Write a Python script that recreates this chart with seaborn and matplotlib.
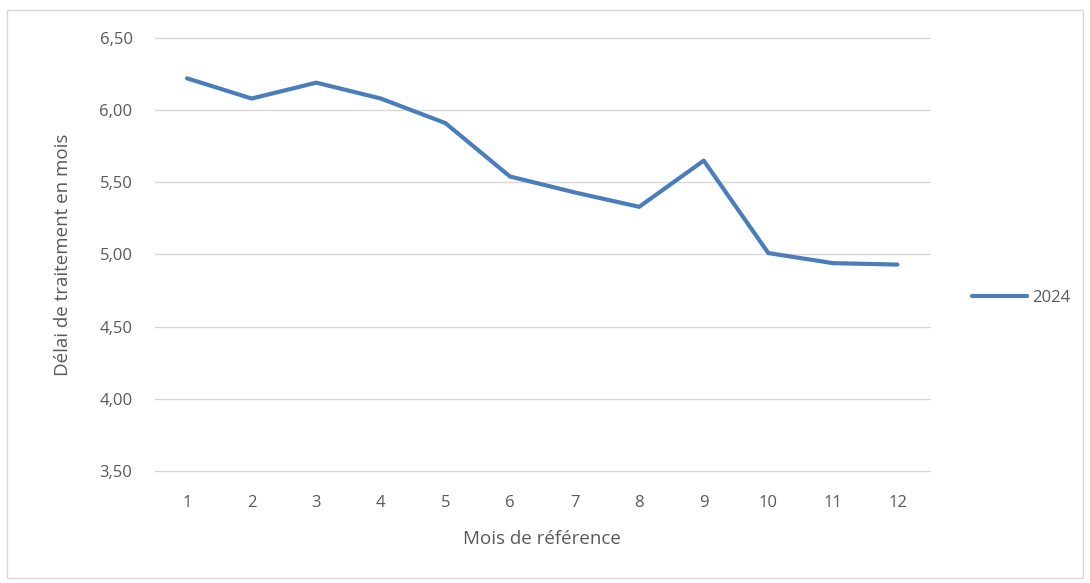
import matplotlib
matplotlib.use("Agg")
import matplotlib.pyplot as plt
import seaborn as sns
import pandas as pd
from matplotlib.patches import Rectangle

mois = [1, 2, 3, 4, 5, 6, 7, 8, 9, 10, 11, 12]
delai_2024 = [6.22, 6.08, 6.19, 6.08, 5.91, 5.54, 5.43, 5.33, 5.65, 5.01, 4.94, 4.93]
y_ticks = [3.5, 4.0, 4.5, 5.0, 5.5, 6.0, 6.5]

df = pd.DataFrame({"Mois": mois, "Delai": delai_2024, "Serie": "2024"})

sns.set_style("white")
plt.rcParams["font.family"] = ["Open Sans", "DejaVu Sans"]

fig = plt.figure(figsize=(10.9, 5.83), dpi=100)
ax = fig.add_axes([0.142, 0.192, 0.711, 0.743])

# light frame round the whole chart
fig.patches.append(Rectangle((0.006, 0.008), 0.988, 0.975, transform=fig.transFigure,
                             fill=False, edgecolor="#d9d9d9", linewidth=1))

sns.lineplot(data=df, x="Mois", y="Delai", hue="Serie", palette=["#4a7ebb"],
             linewidth=3, ax=ax, legend=False)

ax.set_xlim(0.5, 12.5)
ax.set_ylim(3.5, 6.5)
ax.set_xticks(mois)
ax.set_xticklabels([str(m) for m in mois])
ax.set_yticks(y_ticks)
ax.set_yticklabels([f"{v:.2f}".replace(".", ",") for v in y_ticks])
ax.grid(axis="y", color="#d9d9d9", linewidth=1)
for gl in ax.get_ygridlines():
    gl.set_clip_on(False)
ax.set_axisbelow(True)
for s in ax.spines.values():
    s.set_visible(False)
ax.tick_params(axis="both", length=0, labelsize=12, colors="#595959")
ax.tick_params(axis="y", pad=16)
ax.tick_params(axis="x", pad=17)

ax.set_xlabel("Mois de référence", fontsize=13.5, color="#595959", labelpad=14)
ax.set_ylabel("Délai de traitement en mois", fontsize=13.5, color="#595959", labelpad=20)

handle = plt.Line2D([], [], color="#4a7ebb", linewidth=3)
fig.legend([handle], ["2024"], loc="center left", bbox_to_anchor=(0.878, 0.489),
           frameon=False, fontsize=12, handlelength=3.3, handletextpad=0.3,
           labelcolor="#595959")

fig.savefig("out.png", dpi=100)
